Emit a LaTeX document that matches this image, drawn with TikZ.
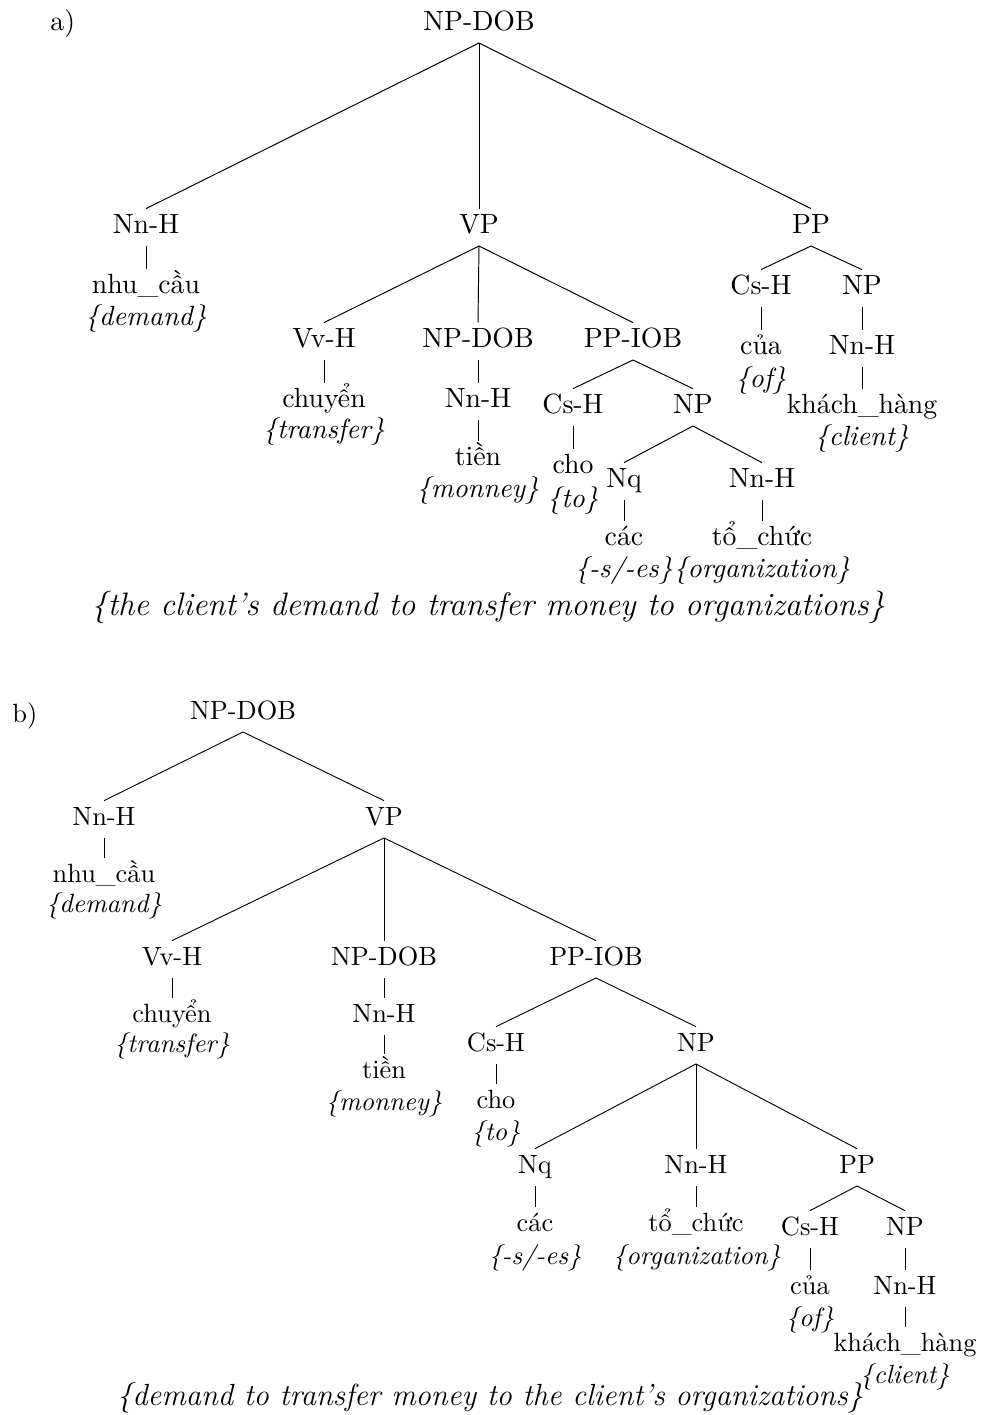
\documentclass[tikz,border=0pt]{standalone}
\begin{document}
\begin{tikzpicture}[x=0.36pt,y=-0.36pt, line width=0.35pt,
  lbl/.style={anchor=base, inner xsep=0pt, inner ysep=1.8pt, text height=6.8pt, text depth=2.7pt},
  gl/.style={anchor=base, inner sep=0pt, font=\itshape},
  captext/.style={anchor=base, inner sep=0pt, font=\fontsize{11.7}{14}\selectfont\itshape},
  tag/.style={anchor=base west, inner sep=0pt}]
\useasboundingbox (0,0) rectangle (981,1415);

% ---------------- tree a ----------------
\node[tag] (ta) at (50,30) {a)};
\node[lbl] (ra) at (479,30) {NP-DOB};

\node[lbl] (a1) at (146,233) {Nn-H};
\node[lbl] (a1w) at (146,293) {nhu\_cầu};
\node[gl]  (a1g) at (146,325) {\{demand\}};

\node[lbl] (a2) at (479,233) {VP};
\node[lbl] (a21) at (324,347) {Vv-H};
\node[lbl] (a21w) at (324,407) {chuyển};
\node[gl]  (a21g) at (324,438) {\{transfer\}};

\node[lbl] (a22) at (478,347) {NP-DOB};
\node[lbl] (a22n) at (478,407) {Nn-H};
\node[lbl] (a22w) at (478,465) {tiền};
\node[gl]  (a22g) at (478,497) {\{monney\}};

\node[lbl] (a23) at (633,347) {PP-IOB};
\node[lbl] (a231) at (573,413) {Cs-H};
\node[lbl] (a231w) at (573,473) {cho};
\node[gl]  (a231g) at (573,507) {\{to\}};
\node[lbl] (a232) at (693,413) {NP};
\node[lbl] (a2321) at (624,487) {Nq};
\node[lbl] (a2321w) at (624,545) {các};
\node[gl]  (a2321g) at (624,577) {\{-s/-es\}};
\node[lbl] (a2322) at (762,487) {Nn-H};
\node[lbl] (a2322w) at (762,545) {tổ\_chức};
\node[gl]  (a2322g) at (762,577) {\{organization\}};

\node[lbl] (a3) at (811,233) {PP};
\node[lbl] (a31) at (761,294) {Cs-H};
\node[lbl] (a31w) at (761,354) {của};
\node[gl]  (a31g) at (761,387) {\{of\}};
\node[lbl] (a32) at (862,294) {NP};
\node[lbl] (a32n) at (862,354) {Nn-H};
\node[lbl] (a32w) at (862,413) {khách\_hàng};
\node[gl]  (a32g) at (862,445) {\{client\}};

\node[captext] (capa) at (488,615) {\{the client’s demand to transfer money to organizations\}};

\draw (ra.south) -- (a1.north);
\draw (ra.south) -- (a2.north);
\draw (ra.south) -- (a3.north);
\draw (a1.south) -- (a1w.north);
\draw (a2.south) -- (a21.north);
\draw (a2.south) -- (a22.north);
\draw (a2.south) -- (a23.north);
\draw (a21.south) -- (a21w.north);
\draw (a22.south) -- (a22n.north);
\draw (a22n.south) -- (a22w.north);
\draw (a23.south) -- (a231.north);
\draw (a23.south) -- (a232.north);
\draw (a231.south) -- (a231w.north);
\draw (a232.south) -- (a2321.north);
\draw (a232.south) -- (a2322.north);
\draw (a2321.south) -- (a2321w.north);
\draw (a2322.south) -- (a2322w.north);
\draw (a3.south) -- (a31.north);
\draw (a3.south) -- (a32.north);
\draw (a31.south) -- (a31w.north);
\draw (a32.south) -- (a32n.north);
\draw (a32n.south) -- (a32w.north);

% ---------------- tree b (set slightly smaller) ----------------
\begin{scope}[font=\fontsize{9.5}{11.5}\selectfont,
  gl/.style={anchor=base, inner sep=0pt, font=\fontsize{9.5}{11.5}\selectfont\itshape},
  captext/.style={anchor=base, inner sep=0pt, font=\fontsize{11}{13}\selectfont\itshape},
  line width=0.33pt]
\node[tag] (tb) at (12,722) {b)};
\node[lbl] (rb) at (243,719) {NP-DOB};

\node[lbl] (b1) at (104,825) {Nn-H};
\node[lbl] (b1w) at (104,882) {nhu\_cầu};
\node[gl]  (b1g) at (104,912) {\{demand\}};

\node[lbl] (b2) at (384,825) {VP};
\node[lbl] (b21) at (172,965) {Vv-H};
\node[lbl] (b21w) at (172,1022) {chuyển};
\node[gl]  (b21g) at (172,1052) {\{transfer\}};

\node[lbl] (b22) at (384,965) {NP-DOB};
\node[lbl] (b22n) at (384,1022) {Nn-H};
\node[lbl] (b22w) at (384,1078) {tiền};
\node[gl]  (b22g) at (384,1110) {\{monney\}};

\node[lbl] (b23) at (596,965) {PP-IOB};
\node[lbl] (b231) at (496,1051) {Cs-H};
\node[lbl] (b231w) at (496,1108) {cho};
\node[gl]  (b231g) at (496,1140) {\{to\}};
\node[lbl] (b232) at (696,1051) {NP};
\node[lbl] (b2321) at (535,1173) {Nq};
\node[lbl] (b2321w) at (535,1231) {các};
\node[gl]  (b2321g) at (535,1264) {\{-s/-es\}};
\node[lbl] (b2322) at (696,1173) {Nn-H};
\node[lbl] (b2322w) at (696,1231) {tổ\_chức};
\node[gl]  (b2322g) at (697,1264) {\{organization\}};
\node[lbl] (b2323) at (857,1173) {PP};
\node[lbl] (b23231) at (810,1235) {Cs-H};
\node[lbl] (b23231w) at (810,1294) {của};
\node[gl]  (b23231g) at (810,1326) {\{of\}};
\node[lbl] (b23232) at (905,1235) {NP};
\node[lbl] (b23232n) at (905,1294) {Nn-H};
\node[lbl] (b23232w) at (905,1351) {khách\_hàng};
\node[gl]  (b23232g) at (905,1383) {\{client\}};

\node[captext] (capb) at (490,1405) {\{demand to transfer money to the client’s organizations\}};

\draw (rb.south) -- (b1.north);
\draw (rb.south) -- (b2.north);
\draw (b1.south) -- (b1w.north);
\draw (b2.south) -- (b21.north);
\draw (b2.south) -- (b22.north);
\draw (b2.south) -- (b23.north);
\draw (b21.south) -- (b21w.north);
\draw (b22.south) -- (b22n.north);
\draw (b22n.south) -- (b22w.north);
\draw (b23.south) -- (b231.north);
\draw (b23.south) -- (b232.north);
\draw (b231.south) -- (b231w.north);
\draw (b232.south) -- (b2321.north);
\draw (b232.south) -- (b2322.north);
\draw (b232.south) -- (b2323.north);
\draw (b2321.south) -- (b2321w.north);
\draw (b2322.south) -- (b2322w.north);
\draw (b2323.south) -- (b23231.north);
\draw (b2323.south) -- (b23232.north);
\draw (b23231.south) -- (b23231w.north);
\draw (b23232.south) -- (b23232n.north);
\draw (b23232n.south) -- (b23232w.north);
\end{scope}
\end{tikzpicture}
\end{document}
